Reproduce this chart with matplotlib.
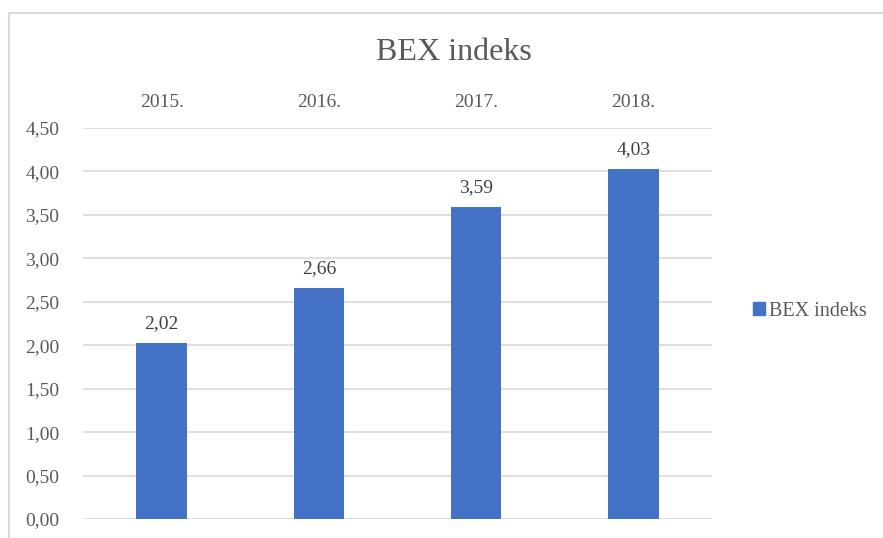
import matplotlib.pyplot as plt
from matplotlib.patches import Rectangle, Patch

years = ['2015.', '2016.', '2017.', '2018.']
bex = [2.02, 2.66, 3.59, 4.03]
yticks = [0, 0.5, 1.0, 1.5, 2.0, 2.5, 3.0, 3.5, 4.0, 4.5]

plt.rcParams['font.family'] = ['Liberation Serif', 'DejaVu Serif']
grey = '#595959'
blue = '#4472c4'

fig = plt.figure(figsize=(8.83, 5.38), dpi=100)
ax = fig.add_axes([83 / 883, 1 - 519 / 538, 629 / 883, 391 / 538])

x = range(len(years))
bars = ax.bar(x, bex, width=0.32, color=blue, zorder=3, label='BEX indeks')
for xi, v in zip(x, bex):
    ax.annotate(f'{v:.2f}'.replace('.', ','), (xi, v), xytext=(0, 8),
                textcoords='offset points', ha='center', va='bottom',
                fontsize=14, color='#404040')

ax.set_xlim(-0.5, len(years) - 0.5)
ax.set_ylim(0, 4.5)
ax.set_yticks(yticks)
ax.set_yticklabels([f'{t:.2f}'.replace('.', ',') for t in yticks])
ax.set_xticks(list(x))
ax.set_xticklabels(years)
ax.xaxis.tick_top()
ax.tick_params(axis='both', length=0, labelsize=14, colors=grey)
ax.tick_params(axis='x', pad=12)
ax.tick_params(axis='y', pad=41.5)
for lbl in ax.get_yticklabels():
    lbl.set_horizontalalignment('left')
ax.yaxis.grid(True, color='#d9d9d9', linewidth=1.2, zorder=0)
for s in ax.spines.values():
    s.set_visible(False)

fig.text(454 / 883, 1 - 52 / 538, 'BEX indeks', ha='center', va='center',
         fontsize=23, color=grey)

fig.legend(handles=[Patch(color=blue, label='BEX indeks')], loc='center left',
           bbox_to_anchor=(735 / 883, 1 - 311 / 538), frameon=False,
           fontsize=14.5, handlelength=0.6, handleheight=0.6, handletextpad=0.2,
           labelcolor=grey)

fig.patches.append(Rectangle((9 / 883, -0.1), 1.2, 1 - 13 / 538 + 0.1,
                             transform=fig.transFigure, fill=False,
                             edgecolor='#d9d9d9', linewidth=1.5))

fig.savefig('out.png', dpi=100)
